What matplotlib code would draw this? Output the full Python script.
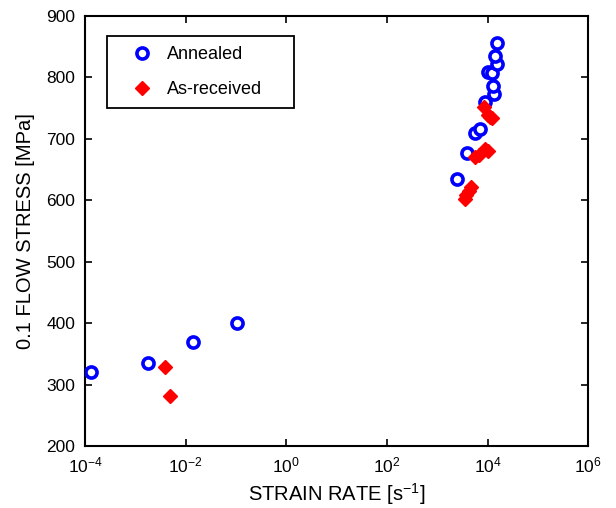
import matplotlib
matplotlib.use('Agg')
import matplotlib.pyplot as plt
from matplotlib.ticker import FixedLocator, NullLocator

plt.rcParams['font.family'] = ['Liberation Sans', 'DejaVu Sans']
plt.rcParams['mathtext.fontset'] = 'custom'
plt.rcParams['mathtext.rm'] = 'Liberation Sans'
plt.rcParams['mathtext.it'] = 'Liberation Sans'
plt.rcParams['mathtext.default'] = 'regular'

# annealed specimens
ann_rate = [1.3e-4, 1.8e-3, 0.014, 0.105,
            2450, 3900, 5700, 7100, 9000, 13500, 12700,
            10400, 12200, 15300, 14200, 15300]
ann_stress = [321, 335, 370, 400,
              634, 677, 709, 715, 760, 773, 786,
              809, 807, 822, 835, 855]

# as-received specimens
asr_rate = [3.9e-3, 4.9e-3,
            3500, 3800, 4200, 4700, 5700, 6600, 8900, 10000,
            8300, 10400, 12200, 11000]
asr_stress = [328, 282,
              602, 608, 615, 622, 671, 674, 684, 680,
              751, 739, 733, 736]

fig = plt.figure(figsize=(6.16, 5.08), dpi=100)
ax = fig.add_axes([0.138, 0.122, 0.817, 0.847])

ax.plot(ann_rate, ann_stress, 'o', ms=8, mfc='white', mec='#0000ff', mew=2.6,
        label='Annealed', zorder=3)
ax.plot(asr_rate, asr_stress, 'D', ms=7, mfc='#ff0000', mec='#ff0000',
        label='As-received', zorder=4)

ax.set_xscale('log')
ax.set_xlim(1e-4, 1e6)
ax.set_ylim(200, 900)
ax.xaxis.set_major_locator(FixedLocator([1e-4, 1e-2, 1e0, 1e2, 1e4, 1e6]))
ax.xaxis.set_minor_locator(NullLocator())
ax.set_yticks(range(200, 901, 100))

ax.tick_params(direction='in', length=5, width=1.2, top=True, right=True,
               labelsize=12.5, pad=7)
for s in ax.spines.values():
    s.set_linewidth(1.5)

ax.set_xlabel('STRAIN RATE [s$^{-1}$]', fontsize=14.5, labelpad=4)
ax.set_ylabel('0.1 FLOW STRESS [MPa]', fontsize=14.5, labelpad=8)

leg = ax.legend(loc='upper left', bbox_to_anchor=(0.044, 0.5, 0.372, 0.452),
                mode='expand', borderaxespad=0, fontsize=13,
                fancybox=False, framealpha=1, edgecolor='black',
                borderpad=0.55, handlelength=2.75, handletextpad=0.0,
                labelspacing=0.98)
leg.get_frame().set_linewidth(1.3)

fig.savefig('out.png', dpi=100)
